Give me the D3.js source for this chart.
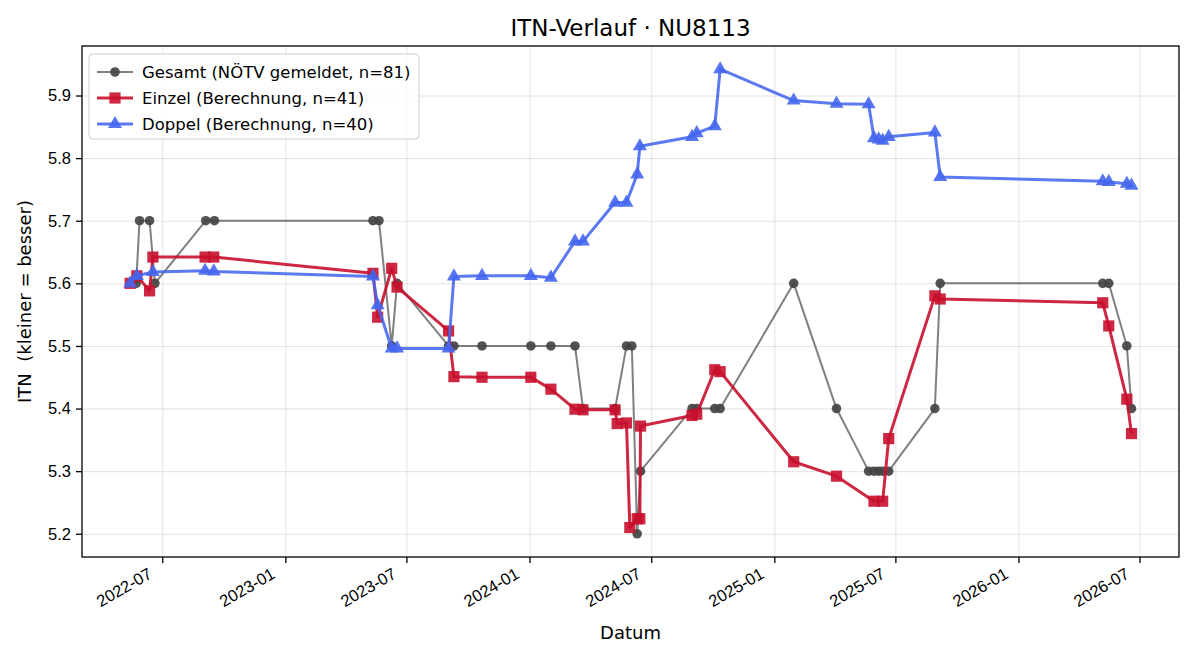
<!DOCTYPE html>
<html>
<head>
<meta charset="utf-8">
<script src="https://cdn.jsdelivr.net/npm/d3@7"></script>
<style>
  body { margin: 0; background: #fff; }
  svg { font-family: 'DejaVu Sans', sans-serif; }
  .grid line { stroke: #b0b0b0; stroke-opacity: 0.35; stroke-width: 1; }
  .grid path { display: none; }
  .axis text { font-size: 16.5px; fill: #000; }
  .axis path, .axis line { stroke: #000; stroke-width: 1.3; }
</style>
</head>
<body>
<svg width="1200" height="660"></svg>
<script>
// Gesamt (NÖTV gemeldet)
const gesamtDates = ['2022-05-23', '2022-05-28', '2022-06-12', '2022-06-20', '2022-09-04', '2022-09-17',
    '2023-05-12', '2023-05-21', '2023-06-09', '2023-06-17', '2023-09-02', '2023-09-10', '2023-10-22',
    '2024-01-03', '2024-02-02', '2024-03-09', '2024-03-21', '2024-05-08', '2024-05-25', '2024-06-02',
    '2024-06-10', '2024-06-15', '2024-08-31', '2024-09-07', '2024-10-04', '2024-10-12', '2025-01-30',
    '2025-04-04', '2025-05-22', '2025-05-30', '2025-06-06', '2025-06-12', '2025-06-21', '2025-08-29',
    '2025-09-06', '2026-05-07', '2026-05-16', '2026-06-12', '2026-06-19'];
const gesamtValues = [5.6, 5.7, 5.7, 5.6, 5.7, 5.7,
    5.7, 5.7, 5.5, 5.6, 5.5, 5.5, 5.5,
    5.5, 5.5, 5.5, 5.4, 5.4, 5.5, 5.5,
    5.2, 5.3, 5.4, 5.4, 5.4, 5.4, 5.6,
    5.4, 5.3, 5.3, 5.3, 5.3, 5.3, 5.4,
    5.6, 5.6, 5.6, 5.5, 5.4];

// Einzel (Berechnung)
const einzelDates = ['2022-05-14', '2022-05-24', '2022-06-12', '2022-06-17', '2022-09-03', '2022-09-16',
    '2023-05-12', '2023-05-19', '2023-06-09', '2023-06-17', '2023-09-02', '2023-09-10', '2023-10-22',
    '2024-01-03', '2024-02-02', '2024-03-09', '2024-03-21', '2024-05-08', '2024-05-11', '2024-05-25',
    '2024-05-30', '2024-06-10', '2024-06-14', '2024-06-15', '2024-08-31', '2024-09-07', '2024-10-04',
    '2024-10-12', '2025-01-30', '2025-04-04', '2025-05-30', '2025-06-12', '2025-06-21', '2025-08-29',
    '2025-09-06', '2026-05-07', '2026-05-16', '2026-06-12', '2026-06-19'];
const einzelValues = [5.600, 5.612, 5.588, 5.642, 5.642, 5.642,
    5.616, 5.546, 5.624, 5.594, 5.524, 5.451, 5.450,
    5.450, 5.431, 5.399, 5.398, 5.398, 5.376, 5.377,
    5.210, 5.224, 5.224, 5.372, 5.389, 5.391, 5.462,
    5.459, 5.315, 5.292, 5.252, 5.252, 5.352, 5.580,
    5.575, 5.569, 5.532, 5.415, 5.360];

// Doppel (Berechnung)
const doppelDates = ['2022-05-14', '2022-05-24', '2022-06-17', '2022-09-03', '2022-09-16',
    '2023-05-12', '2023-05-19', '2023-06-09', '2023-06-17', '2023-09-02', '2023-09-10', '2023-10-22',
    '2024-01-03', '2024-02-02', '2024-03-09', '2024-03-21', '2024-05-08', '2024-05-25', '2024-06-10',
    '2024-06-14', '2024-08-31', '2024-09-07', '2024-10-04', '2024-10-12', '2025-01-30', '2025-04-04',
    '2025-05-22', '2025-05-30', '2025-06-06', '2025-06-12', '2025-06-21', '2025-08-29', '2025-09-06',
    '2026-05-07', '2026-05-16', '2026-06-12', '2026-06-19'];
const doppelValues = [5.600, 5.612, 5.618, 5.620, 5.619,
    5.611, 5.565, 5.496, 5.496, 5.496, 5.611, 5.612,
    5.612, 5.609, 5.667, 5.667, 5.729, 5.729, 5.774,
    5.819, 5.834, 5.840, 5.851, 5.942, 5.892, 5.887,
    5.886, 5.832, 5.830, 5.828, 5.834, 5.841, 5.770,
    5.763, 5.762, 5.759, 5.756];

const yTicks = [5.2, 5.3, 5.4, 5.5, 5.6, 5.7, 5.8, 5.9];
const xDomain = ['2022-03-03', '2026-08-29'];

const parse = d3.timeParse('%Y-%m-%d');
const zip = (dates, values) => dates.map((d, i) => ({ date: parse(d), value: values[i] }));

const series = [
    { name: 'Gesamt (NÖTV gemeldet, n=81)', data: zip(gesamtDates, gesamtValues), color: '#444444', line: 2, symbol: d3.symbolCircle, size: 72, lineOpacity: 0.68, markOpacity: 0.92 },
    { name: 'Einzel (Berechnung, n=41)', data: zip(einzelDates, einzelValues), color: '#c8102e', line: 3, symbol: d3.symbolSquare, size: 125, lineOpacity: 0.9, markOpacity: 0.9 },
    { name: 'Doppel (Berechnung, n=40)', data: zip(doppelDates, doppelValues), color: '#4466ee', line: 3, symbol: d3.symbolTriangle, size: 85, lineOpacity: 0.88, markOpacity: 0.9 },
];

const svg = d3.select('svg');
const plotLeft = 82, plotRight = 1179, plotTop = 46, plotBottom = 557;

const xScale = d3.scaleTime()
    .domain(xDomain.map(parse))
    .range([plotLeft, plotRight]);

const yScale = d3.scaleLinear()
    .domain([5.2 - 0.0371, 5.942 + 0.0371])
    .range([plotBottom, plotTop]);

const xTicks = d3.timeMonth.every(6).range(parse('2022-07-01'), parse('2026-07-02'));

// grid lines
svg.append('g')
    .attr('class', 'grid')
    .attr('transform', `translate(0, ${plotBottom})`)
    .call(d3.axisBottom(xScale).tickValues(xTicks).tickSize(-(plotBottom - plotTop)).tickFormat(''));

svg.append('g')
    .attr('class', 'grid')
    .attr('transform', `translate(${plotLeft}, 0)`)
    .call(d3.axisLeft(yScale).tickValues(yTicks).tickSize(-(plotRight - plotLeft)).tickFormat(''));

// series
const lineGen = d3.line()
    .x((d) => xScale(d.date))
    .y((d) => yScale(d.value));

series.forEach((s) => {
    svg.append('path')
        .datum(s.data)
        .attr('fill', 'none')
        .attr('stroke', s.color)
        .attr('stroke-width', s.line)
        .attr('stroke-opacity', s.lineOpacity)
        .attr('stroke-linejoin', 'round')
        .attr('d', lineGen);

    svg.append('g')
        .selectAll('path')
        .data(s.data)
        .enter()
        .append('path')
        .attr('transform', (d) => `translate(${xScale(d.date)}, ${yScale(d.value)})`)
        .attr('d', d3.symbol().type(s.symbol).size(s.size))
        .attr('fill', s.color)
        .attr('fill-opacity', s.markOpacity);
});

// frame
svg.append('rect')
    .attr('x', plotLeft)
    .attr('y', plotTop)
    .attr('width', plotRight - plotLeft)
    .attr('height', plotBottom - plotTop)
    .attr('fill', 'none')
    .attr('stroke', '#000')
    .attr('stroke-width', 1.3);

// axes
const xAxis = svg.append('g')
    .attr('class', 'axis')
    .attr('transform', `translate(0, ${plotBottom})`)
    .call(d3.axisBottom(xScale).tickValues(xTicks).tickSize(6).tickFormat(d3.timeFormat('%Y-%m')));
xAxis.select('.domain').remove();
xAxis.selectAll('text')
    .attr('text-anchor', 'end')
    .attr('x', 0)
    .attr('y', 0)
    .attr('dy', '0.78em')
    .attr('transform', 'translate(-16, 9) rotate(-30)');

const yAxis = svg.append('g')
    .attr('class', 'axis')
    .attr('transform', `translate(${plotLeft}, 0)`)
    .call(d3.axisLeft(yScale).tickValues(yTicks).tickSize(6).tickPadding(5).tickFormat(d3.format('.1f')));
yAxis.select('.domain').remove();

// labels
svg.append('text')
    .attr('x', (plotLeft + plotRight) / 2)
    .attr('y', 36)
    .attr('text-anchor', 'middle')
    .style('font-size', '23px')
    .text('ITN-Verlauf · NU8113');

svg.append('text')
    .attr('x', (plotLeft + plotRight) / 2)
    .attr('y', 639)
    .attr('text-anchor', 'middle')
    .style('font-size', '18px')
    .text('Datum');

svg.append('text')
    .attr('transform', `translate(31, ${(plotTop + plotBottom) / 2}) rotate(-90)`)
    .attr('text-anchor', 'middle')
    .style('font-size', '18px')
    .style('white-space', 'pre')
    .text('ITN  (kleiner = besser)');

// legend
const legend = svg.append('g');
legend.append('rect')
    .attr('x', 89)
    .attr('y', 54)
    .attr('width', 330)
    .attr('height', 85)
    .attr('rx', 4)
    .attr('fill', '#fff')
    .attr('fill-opacity', 0.8)
    .attr('stroke', '#cccccc');

series.forEach((s, i) => {
    const y = 72 + i * 26;
    legend.append('line')
        .attr('x1', 97)
        .attr('x2', 133)
        .attr('y1', y)
        .attr('y2', y)
        .attr('stroke', s.color)
        .attr('stroke-width', s.line)
        .attr('stroke-opacity', s.lineOpacity);
    legend.append('path')
        .attr('transform', `translate(115, ${y})`)
        .attr('d', d3.symbol().type(s.symbol).size(s.size))
        .attr('fill', s.color)
        .attr('fill-opacity', s.markOpacity);
    legend.append('text')
        .attr('x', 142)
        .attr('y', y)
        .attr('dy', '0.35em')
        .style('font-size', '16.5px')
        .text(s.name);
});
</script>
</body>
</html>
